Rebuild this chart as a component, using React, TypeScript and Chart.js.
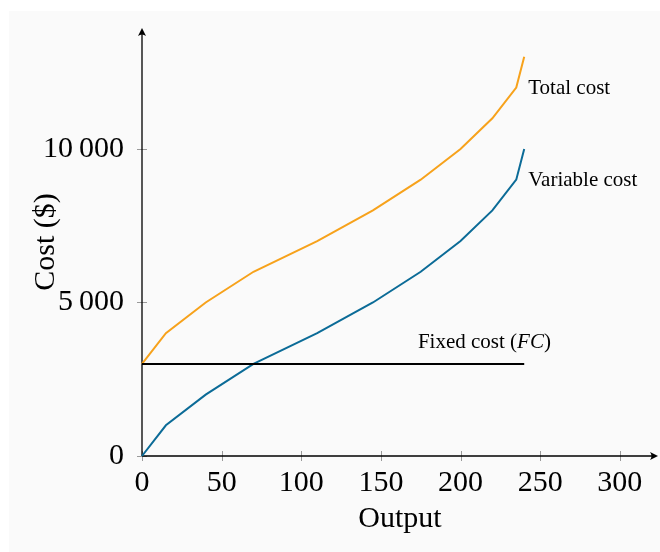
import React, { useEffect, useRef } from 'react';
import { Chart, registerables } from 'chart.js';

Chart.register(...registerables);

// ---- data ----
const outputs = [0, 15, 40, 70, 110, 145, 175, 200, 220, 235, 240];
const totalCost = [3000, 4000, 5000, 6000, 7000, 8000, 9000, 10000, 11000, 12000, 13000];
const variableCost = [0, 1000, 2000, 3000, 4000, 5000, 6000, 7000, 8000, 9000, 10000];
const fixedCostX = [0, 240];
const fixedCostY = [3000, 3000];

const xTicks = [0, 50, 100, 150, 200, 250, 300];
const yTicks = [0, 5000, 10000];
const yTickLabels = ['0', '5\u2009000', '10\u2009000'];

const xAxisTitle = 'Output';
const yAxisTitle = 'Cost ($)';

const X_MAX = 324;
const Y_MAX = 13940;

const ORANGE = '#f7a21b';
const BLUE = '#0b6b97';
const SERIF = '"Liberation Serif", "Times New Roman", serif';

const decorPlugin = {
  id: 'decor',
  beforeDraw(chart: any) {
    const { ctx, width, height } = chart;
    ctx.save();
    ctx.fillStyle = '#ffffff';
    ctx.fillRect(0, 0, width, height);
    ctx.fillStyle = '#fafafa';
    ctx.fillRect(9, 11, width - 9, height - 11);
    ctx.restore();
  },
  beforeDatasetsDraw(chart: any) {
    const { ctx } = chart;
    const xs = chart.scales.x;
    const ys = chart.scales.y;
    const x0 = xs.getPixelForValue(0);
    const y0 = ys.getPixelForValue(0);
    ctx.save();
    // tick marks
    ctx.strokeStyle = '#9a9a9a';
    ctx.lineWidth = 1;
    ctx.beginPath();
    xTicks.forEach((v) => {
      const px = Math.round(xs.getPixelForValue(v)) + 0.5;
      ctx.moveTo(px, y0 - 5);
      ctx.lineTo(px, y0 + 5);
    });
    yTicks.forEach((v) => {
      const py = Math.round(ys.getPixelForValue(v)) + 0.5;
      ctx.moveTo(x0 - 5, py);
      ctx.lineTo(x0 + 5, py);
    });
    ctx.stroke();
    // axes
    ctx.strokeStyle = '#000000';
    ctx.fillStyle = '#000000';
    ctx.lineWidth = 1.3;
    const xEnd = xs.getPixelForValue(X_MAX);
    const yEnd = ys.getPixelForValue(Y_MAX);
    ctx.beginPath();
    ctx.moveTo(x0, y0);
    ctx.lineTo(xEnd - 3, y0);
    ctx.moveTo(x0, y0);
    ctx.lineTo(x0, yEnd + 3);
    ctx.stroke();
    // arrowheads
    ctx.beginPath();
    ctx.moveTo(xEnd, y0);
    ctx.lineTo(xEnd - 8, y0 - 4);
    ctx.quadraticCurveTo(xEnd - 5, y0, xEnd - 8, y0 + 4);
    ctx.closePath();
    ctx.fill();
    ctx.beginPath();
    ctx.moveTo(x0, yEnd);
    ctx.lineTo(x0 - 4, yEnd + 8);
    ctx.quadraticCurveTo(x0, yEnd + 5, x0 + 4, yEnd + 8);
    ctx.closePath();
    ctx.fill();
    ctx.restore();
  },
  afterDatasetsDraw(chart: any) {
    const { ctx } = chart;
    const xs = chart.scales.x;
    const ys = chart.scales.y;
    ctx.save();
    ctx.fillStyle = '#000000';
    ctx.font = `21px ${SERIF}`;
    ctx.textBaseline = 'middle';
    ctx.textAlign = 'left';
    ctx.fillText('Total cost', xs.getPixelForValue(235) + 12, ys.getPixelForValue(12000) + 1);
    ctx.fillText('Variable cost', xs.getPixelForValue(235) + 12, ys.getPixelForValue(9000) + 1);
    // Fixed cost (FC) with italic FC
    const parts = [
      { t: 'Fixed cost (', f: `21px ${SERIF}` },
      { t: 'FC', f: `italic 21px ${SERIF}` },
      { t: ')', f: `21px ${SERIF}` },
    ];
    let total = 0;
    parts.forEach((p) => {
      ctx.font = p.f;
      total += ctx.measureText(p.t).width;
    });
    let cx = xs.getPixelForValue(215) - total / 2;
    const cy = ys.getPixelForValue(3000) - 21;
    parts.forEach((p) => {
      ctx.font = p.f;
      ctx.fillText(p.t, cx, cy);
      cx += ctx.measureText(p.t).width;
    });
    ctx.restore();
  },
};

export default function App() {
  const ref = useRef<HTMLCanvasElement>(null);

  useEffect(() => {
    if (!ref.current) return;
    const chart = new Chart(ref.current, {
      type: 'line',
      data: {
        datasets: [
          {
            label: 'Fixed cost (FC)',
            data: fixedCostX.map((x, i) => ({ x, y: fixedCostY[i] })),
            borderColor: '#000000',
            borderWidth: 2,
            pointRadius: 0,
            tension: 0,
            clip: false as any,
          },
          {
            label: 'Total cost',
            data: outputs.map((x, i) => ({ x, y: totalCost[i] })),
            borderColor: ORANGE,
            borderWidth: 2,
            pointRadius: 0,
            tension: 0,
            clip: false as any,
          },
          {
            label: 'Variable cost',
            data: outputs.map((x, i) => ({ x, y: variableCost[i] })),
            borderColor: BLUE,
            borderWidth: 2,
            pointRadius: 0,
            tension: 0,
            clip: false as any,
          },
        ],
      },
      options: {
        animation: false,
        responsive: false,
        devicePixelRatio: 1,
        layout: { padding: { top: 28, right: 2, left: 0, bottom: 0 } },
        plugins: {
          legend: { display: false },
          tooltip: { enabled: false },
        },
        scales: {
          x: {
            type: 'linear',
            min: 0,
            max: X_MAX,
            grid: { display: false, drawTicks: false },
            border: { display: false },
            afterBuildTicks: (s: any) => {
              s.ticks = xTicks.map((v) => ({ value: v }));
            },
            afterFit: (s: any) => {
              s.height = 96;
              s.paddingLeft = 0;
              s.paddingRight = 0;
            },
            ticks: {
              autoSkip: false,
              maxRotation: 0,
              padding: 9,
              color: '#000000',
              font: { family: SERIF, size: 30 },
              callback: (v: any) => String(v),
            },
            title: {
              display: true,
              text: xAxisTitle,
              color: '#000000',
              font: { family: SERIF, size: 30 },
              padding: { top: 0, bottom: 15 },
            },
          },
          y: {
            type: 'linear',
            min: 0,
            max: Y_MAX,
            grid: { display: false, drawTicks: false },
            border: { display: false },
            afterBuildTicks: (s: any) => {
              s.ticks = yTicks.map((v) => ({ value: v }));
            },
            afterFit: (s: any) => {
              s.width = 142;
              s.paddingTop = 0;
              s.paddingBottom = 0;
            },
            ticks: {
              autoSkip: false,
              padding: 18,
              color: '#000000',
              font: { family: SERIF, size: 30 },
              callback: (v: any) => {
                const i = yTicks.indexOf(Number(v));
                return i >= 0 ? yTickLabels[i] : '';
              },
            },
            title: {
              display: true,
              text: yAxisTitle,
              color: '#000000',
              font: { family: SERIF, size: 30 },
              padding: { top: 28, bottom: 0 },
            },
          },
        },
      },
      plugins: [decorPlugin],
    });
    return () => chart.destroy();
  }, []);

  return (
    <div style={{ position: 'absolute', left: 0, top: 0, width: 660, height: 552 }}>
      <canvas ref={ref} width={660} height={552} style={{ display: 'block', width: 660, height: 552 }} />
    </div>
  );
}
